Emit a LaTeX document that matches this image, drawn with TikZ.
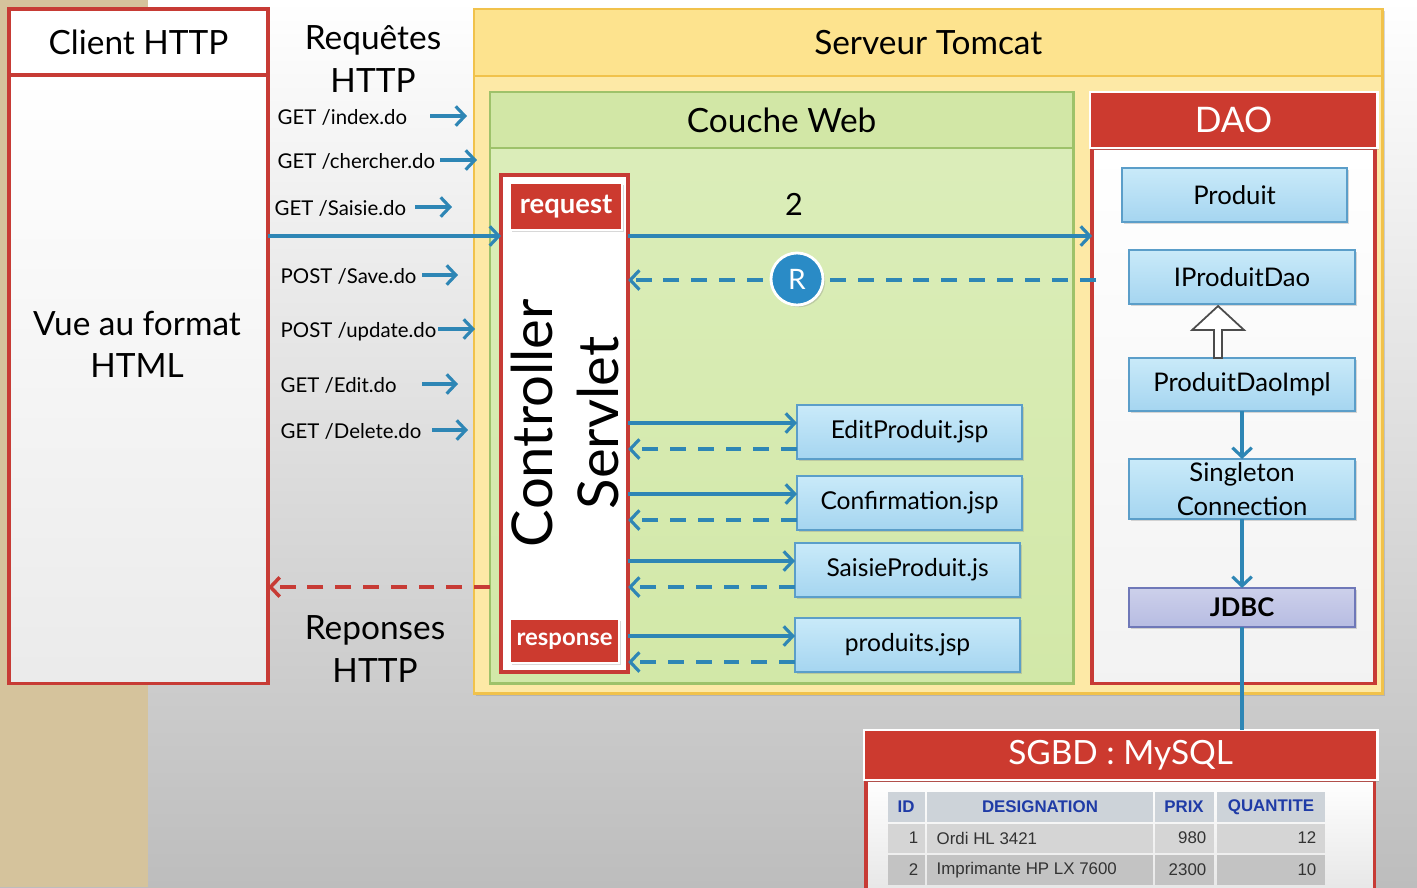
\documentclass[tikz,border=0pt]{standalone}
\usepackage{fontspec}
\setmainfont{Lato}
\newfontfamily\tablefont{Liberation Sans}
\usetikzlibrary{arrows.meta,calc,shadows}

\definecolor{slidetan}{HTML}{D5C39C}
\definecolor{slidegray}{HTML}{BDBDBD}
\definecolor{slidered}{HTML}{CC3A2F}
\definecolor{redline}{HTML}{C73B35}
\definecolor{flowblue}{HTML}{2E86B5}
\definecolor{rblue}{HTML}{2A8BC6}
\definecolor{jsptop}{HTML}{C9EAF9}
\definecolor{jspbot}{HTML}{A5D5F0}
\definecolor{jspline}{HTML}{5B9EC9}
\definecolor{jdbcfill}{HTML}{B7BCE2}
\definecolor{jdbcline}{HTML}{6F78B8}
\definecolor{webtop}{HTML}{DCEEBB}
\definecolor{webbot}{HTML}{D2E8A8}
\definecolor{webhead}{HTML}{D2E7A6}
\definecolor{webline}{HTML}{9EC26A}
\definecolor{tomfill}{HTML}{FDE9A6}
\definecolor{tomhead}{HTML}{FDE38E}
\definecolor{tomline}{HTML}{F1C24B}
\definecolor{thead}{HTML}{CDD3D9}
\definecolor{trowa}{HTML}{D5D5D5}
\definecolor{trowb}{HTML}{C3C3C3}
\definecolor{thtext}{HTML}{1F3BA6}

\newcommand{\fsz}[2]{\fontsize{#1}{#2}\selectfont}

\begin{document}
\begin{tikzpicture}[x=0.01cm,y=-0.01cm,
    panel/.style={anchor=north west,inner sep=0pt,outer sep=0pt},
    title/.style={font=\fsz{9.5}{12},align=center,inner sep=0pt},
    soft/.style={drop shadow={opacity=0.3,shadow xshift=0.6pt,shadow yshift=-0.6pt}},
    tagbox/.style={panel,fill=slidered,draw=white,line width=0.8pt,text=white,soft},
    jspbox/.style={panel,draw=jspline,line width=0.6pt,top color=jsptop,bottom color=jspbot,
      minimum width=2.25cm,minimum height=0.54cm,font=\fsz{7}{8},soft},
    daobox/.style={panel,draw=jspline,line width=0.6pt,top color=jsptop,bottom color=jspbot,
      minimum width=2.26cm,align=center,font=\fsz{7.3}{9.7},soft},
    reqlabel/.style={anchor=base west,inner sep=0pt,font=\fsz{5.8}{7}},
    go/.style={draw=flowblue,line width=0.9pt,-{Straight Barb[length=2.6pt,width=5.5pt]}},
    back/.style={go,dash pattern=on 4.5pt off 3.4pt},
    backred/.style={back,draw=redline,line width=1pt},
    isa/.style={draw=gray!60!black,fill=white,line width=0.5pt},
    tcell/.style={inner sep=0pt,font=\tablefont\fsz{4.8}{6},text=black!80}]

  \useasboundingbox (0,0) rectangle (1417,887);
  \clip (0,0) rectangle (1417,887);
  % slide background
  \shade[top color=white,bottom color=slidegray] (0,0) rectangle (1417,887);
  \fill[slidetan] (0,0) rectangle (148,887);

  % client side
  \node[panel,draw=redline,line width=1pt,fill=white,minimum width=2.59cm,minimum height=0.66cm,title]
    (clienthead) at (9,9) {Client HTTP};
  \node[panel,draw=redline,line width=1pt,top color=white,bottom color=black!8,
    minimum width=2.59cm,minimum height=6.08cm] (clientbody) at (9,75) {};
  \node[title] (vue) at (137,344) {Vue au format\\HTML};
  \node[title] (requetes) at (373,59) {Requêtes\\HTTP};
  \node[title] (reponses) at (375,649) {Reponses\\HTTP};

  % serveur tomcat
  \node[panel,draw=tomline,line width=0.8pt,fill=tomfill,minimum width=9.08cm,minimum height=6.84cm,soft]
    (tomcat) at (474,9) {};
  \node[panel,draw=tomline,line width=0.8pt,fill=tomhead,minimum width=9.08cm,minimum height=0.67cm,title]
    (tomhead) at (474,9) {Serveur Tomcat};

  % couche web
  \node[panel,draw=webline,line width=0.8pt,top color=webtop,bottom color=webbot,
    minimum width=5.83cm,minimum height=5.91cm,soft] (web) at (490,92) {};
  \node[panel,draw=webline,line width=0.8pt,fill=webhead,minimum width=5.83cm,minimum height=0.56cm,title]
    (webhead) at (490,92) {Couche Web};

  % controller servlet
  \node[panel,draw=redline,line width=1.2pt,fill=white,minimum width=1.27cm,minimum height=4.97cm,soft]
    (ctrl) at (501,175) {};
  \node[tagbox,minimum width=1.12cm,minimum height=0.47cm,font=\bfseries\fsz{7.8}{9}]
    (request) at (510,183) {request};
  \node[tagbox,minimum width=1.09cm,minimum height=0.44cm,font=\bfseries\fsz{6.8}{8}]
    (response) at (510,619) {response};
  \node[rotate=90,align=center,inner sep=0pt,font=\fsz{16}{18.5}] (ctrltxt) at (565,423) {Controller\\Servlet};
  \node[font=\fsz{8.7}{10},inner sep=0pt] (two) at (794,204) {2};

  % DAO
  \node[panel,draw=redline,line width=1pt,top color=white,bottom color=black!5,
    minimum width=2.83cm,minimum height=5.35cm] (dao) at (1092,148) {};
  \node[tagbox,minimum width=2.87cm,minimum height=0.56cm,font=\fsz{10}{12}] (daohead) at (1090,92) {DAO};
  \node[daobox,minimum width=2.25cm,minimum height=0.54cm] (prod) at (1122,168) {Produit};
  \node[daobox,minimum height=0.54cm] (iface) at (1129,250) {IProduitDao};
  \node[daobox,minimum height=0.53cm] (impl) at (1129,358) {ProduitDaoImpl};
  \node[daobox,minimum height=0.60cm] (single) at (1129,459) {Singleton\\Connection};
  \node[daobox,draw=jdbcline,top color=jdbcfill!70,bottom color=jdbcfill,minimum height=0.39cm,
    font=\bfseries\fsz{7.3}{9}] (jdbc) at (1129,588) {JDBC};
  \coordinate (tip) at ($(iface.south)+(-24,2)$);
  \draw[isa] (tip) -- ($(tip)+(26,24)$) -- ($(tip)+(4,24)$) -- ($(impl.north -| tip)+(4,0)$)
    -- ($(impl.north -| tip)+(-4,0)$) -- ($(tip)+(-4,24)$) -- ($(tip)+(-26,24)$) -- cycle;
  \draw[go] (impl.south) -- (single.north);
  \draw[go] (single.south) -- (jdbc.north);

  % SGBD
  \node[panel,draw=redline,line width=1pt,top color=white,bottom color=black!12,
    minimum width=5.08cm,minimum height=1.4cm] (sgbd) at (866,780) {};
  \node[tagbox,minimum width=5.13cm,minimum height=0.5cm,font=\fsz{9.5}{11}] (sgbdhead) at (864,730) {SGBD : MySQL};
  \draw[draw=flowblue,line width=0.9pt] (jdbc.south) -- (jdbc.south |- sgbdhead.north);
  \foreach \xa/\xb in {888/925,927/1153,1155/1214,1217/1325} {
      \fill[thead] (\xa,792) rectangle (\xb,822);
      \fill[trowa] (\xa,824) rectangle (\xb,853);
      \fill[trowb] (\xa,855) rectangle (\xb,885);
    };
  \foreach \xc/\hd [count=\c] in {906/ID,1040/DESIGNATION,1184/PRIX,1271/QUANTITE} {
      \node[tcell,font=\tablefont\bfseries\fsz{4.8}{6},text=thtext] (th\c) at (\xc,807) {\hd};
    };
  \foreach \yr/\id/\des/\prix/\qte [count=\r] in {
      838/1/Ordi HL 3421/980/12,
      870/2/Imprimante HP LX 7600/2300/10
    } {
      \node[tcell,anchor=east] (id\r) at (919,\yr) {\id};
      \node[tcell,anchor=west] (des\r) at (936,\yr) {\des};
      \node[tcell,anchor=east] (prix\r) at (1207,\yr) {\prix};
      \node[tcell,anchor=east] (qte\r) at (1317,\yr) {\qte};
    };

  % requetes HTTP
  \foreach \yq/\lx/\xa/\xb/\lbl [count=\i] in {
      124/277/430/467/{GET /index.do},
      168/277/440/477/{GET /chercher.do},
      215/274/415/452/{GET /Saisie.do},
      283/280/422/458/{POST /Save.do},
      337/280/438/475/{POST /update.do},
      392/280/422/458/{GET /Edit.do},
      438/280/432/468/{GET /Delete.do}
    } {
      \node[reqlabel] (req\i) at (\lx,\yq) {\lbl};
      \coordinate (rs\i) at (\xa,\yq-8);
      \coordinate (re\i) at (\xb,\yq-8);
      \draw[go] (rs\i) -- (re\i);
    };
  \coordinate (reqline) at (0,236);
  \draw[go] (clientbody.east |- reqline) -- (ctrl.west |- reqline);
  \draw[go] (ctrl.east |- reqline) -- (dao.west |- reqline);
  \coordinate (ret) at (1096,280);
  \draw[back] (ret) -- (ctrl.east |- ret);
  \node[circle,fill=rblue,draw=white,line width=0.8pt,minimum size=0.52cm,inner sep=0pt,text=white,
    font=\fsz{8}{9},soft] (R) at (797,279) {R};

  % pages JSP
  \foreach \nm/\xj/\yj/\lbl in {
      edit/797/405/EditProduit.jsp,
      conf/797/476/Confirmation.jsp,
      saisie/795/543/SaisieProduit.js,
      prods/795/618/produits.jsp
    } {
      \node[jspbox] (\nm) at (\xj,\yj) {\lbl};
      \coordinate (go\nm) at (ctrl.east |- 0,\yj+18);
      \coordinate (back\nm) at (ctrl.east |- 0,\yj+44);
      \draw[go] (go\nm) -- (go\nm -| \nm.west);
      \draw[back] (back\nm -| \nm.west) -- (back\nm);
    };

  % reponses HTTP
  \coordinate (resp) at (web.west |- 0,587);
  \draw[backred] (resp) -- (clientbody.east |- resp);
\end{tikzpicture}
\end{document}
